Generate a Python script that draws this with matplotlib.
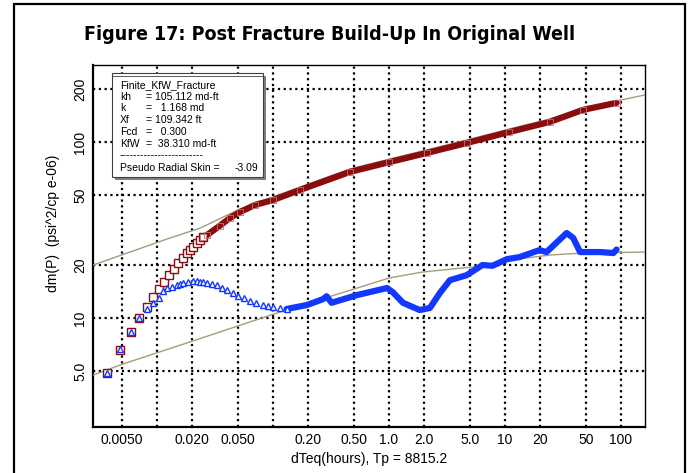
import numpy as np
import matplotlib
matplotlib.use('Agg')
from matplotlib import pyplot as plt
from matplotlib.patches import Rectangle

plt.rcParams['font.family'] = ['Liberation Sans', 'DejaVu Sans']

# pressure change (red squares), sparse early part and dense late part
t_dp_early = [0.00371, 0.00480, 0.00597, 0.00700, 0.00820, 0.00924, 0.0104, 0.0115,
              0.0127, 0.0140, 0.0152, 0.0168, 0.0181, 0.0192, 0.0204, 0.0221, 0.0235, 0.0249]
dp_early = [4.87, 6.58, 8.32, 10.0, 11.55, 13.2, 14.6, 16.0,
            17.5, 19.0, 20.5, 21.9, 23.4, 24.3, 25.3, 26.7, 27.7, 28.9]
t_dp_late = [0.0249, 0.0270, 0.0349, 0.0426, 0.0519, 0.070, 0.100, 0.171, 0.46,
             1.01, 2.11, 4.66, 10.9, 24.3, 46.6, 91.6]
dp_late = [28.9, 29.6, 33.5, 37.0, 40.0, 43.9, 46.8, 53.4, 67.6,
           76.9, 86.6, 98.6, 114, 130, 152, 167]

# derivative (blue triangles)
t_der_early = [0.00371, 0.00480, 0.00597, 0.00700, 0.00820, 0.00924, 0.0104, 0.0113,
               0.0122, 0.0135, 0.0148, 0.0158, 0.0168, 0.0185, 0.0204, 0.0220, 0.0235,
               0.0250, 0.0270, 0.0300, 0.0330, 0.0365, 0.0401, 0.0452, 0.050, 0.056,
               0.0632, 0.072, 0.082, 0.090, 0.100, 0.115, 0.131]
der_early = [4.87, 6.66, 8.32, 10.0, 11.25, 12.2, 13.0, 14.2,
             14.8, 15.0, 15.4, 15.6, 15.8, 16.0, 16.2, 16.2, 16.1,
             16.0, 15.8, 15.6, 15.4, 14.9, 14.4, 13.9, 13.4, 13.0,
             12.5, 12.1, 11.8, 11.65, 11.55, 11.35, 11.25]
t_der_late = [0.131, 0.196, 0.27, 0.29, 0.32, 0.53, 0.96, 1.08, 1.32, 1.84, 2.25,
              2.75, 3.35, 4.66, 6.4, 7.8, 10.4, 13.4, 19.8, 22.8, 34, 38.7,
              44.4, 66, 86, 91.6]
der_late = [11.25, 11.85, 12.8, 13.3, 12.2, 13.5, 14.8, 14.0, 12.2, 11.1, 11.4,
            13.9, 16.4, 17.5, 20.0, 19.8, 21.6, 22.2, 24.3, 23.7, 30.4, 28.5,
            23.7, 23.7, 23.4, 24.5]

# model curves
t_model_dp = [0.00281, 0.00585, 0.0122, 0.0235, 0.0519, 0.100, 0.171, 0.46, 1.01,
              2.11, 4.66, 10.9, 24.3, 46.6, 91.6, 160]
model_dp = [20.0, 23.7, 28.1, 32.4, 41.6, 48.7, 55.5, 70.3, 80.0,
            90.1, 102.6, 118.6, 135, 154, 171, 185]
t_model_der = [0.00281, 0.0051, 0.0235, 0.100, 0.31, 1.01, 1.95, 5.3, 12.7, 24.6, 47.2, 160]
model_der = [4.74, 5.48, 7.64, 10.5, 13.25, 16.9, 18.25, 19.5, 21.6, 22.8, 23.4, 23.7]

x_ticks = [0.005, 0.01, 0.02, 0.05, 0.1, 0.2, 0.5, 1, 2, 5, 10, 20, 50, 100]
x_labels = ['0.0050', '', '0.020', '0.050', '', '0.20', '0.50', '1.0', '2.0',
            '5.0', '10', '20', '50', '100']
y_ticks = [5, 10, 20, 50, 100, 200]
y_labels = ['5.0', '10', '20', '50', '100', '200']

legend_lines = [
    ('Finite_KfW_Fracture', '', ''),
    ('kh', '=', '105.112 md-ft'),
    ('k', '=', '  1.168 md'),
    ('Xf', '=', '109.342 ft'),
    ('Fcd', '=', '  0.300'),
    ('KfW', '=', ' 38.310 md-ft'),
]

W, H = 692, 473
fig = plt.figure(figsize=(W / 100, H / 100), dpi=100)


def fx(x):
    return x / W


def fy(y):
    return 1 - y / H


ax = fig.add_axes([fx(93), fy(427), fx(645) - fx(93), fy(65) - fy(427)])

red = '#8b0c0c'
blue = '#1238ff'
model_c = '#a39c7c'

ax.plot(t_model_dp, model_dp, color=model_c, lw=1.0, zorder=3)
ax.plot(t_model_der, model_der, color=model_c, lw=1.0, zorder=3)

ax.plot(t_dp_late, dp_late, color=red, lw=4.5, solid_capstyle='round', zorder=4)
ax.plot(t_dp_late, dp_late, ls='none', marker='s', ms=5, mfc='none', mec='#c07070',
        mew=0.6, zorder=5)
ax.plot(t_dp_early, dp_early, ls='none', marker='s', ms=5.5, mfc='white', mec=red,
        mew=1.0, zorder=4)

ax.plot(t_der_late, der_late, color=blue, lw=4.5, solid_capstyle='round', zorder=4)
ax.plot(t_der_early, der_early, ls='none', marker='^', ms=4.5, mfc='white', mec=blue,
        mew=1.0, zorder=5)

ax.set_xscale('log')
ax.set_yscale('log')
ax.set_xlim(0.002808, 161)
ax.set_ylim(2.403, 273.8)
ax.set_xticks(x_ticks)
ax.set_xticklabels(x_labels)
ax.set_yticks(y_ticks)
ax.set_yticklabels(y_labels, rotation=90, va='center')
ax.minorticks_off()
ax.tick_params(length=0, labelsize=10, pad=4)
ax.grid(True, color='black', ls=(0, (1, 1.6)), lw=1.6)

for s in ['left', 'bottom']:
    ax.spines[s].set_linewidth(1.6)
for s in ['top', 'right']:
    ax.spines[s].set_linewidth(1.0)

ax.set_xlabel('dTeq(hours), Tp = 8815.2', fontsize=10)
ax.xaxis.set_label_coords(0.5, -0.07)
ax.set_ylabel('dm(P)  (psi^2/cp e-06)', fontsize=10)
ax.yaxis.set_label_coords(-0.06, 0.5635)

fig.text(fx(330), fy(35), 'Figure 17: Post Fracture Build-Up In Original Well',
         family='DejaVu Sans', fontstretch='condensed', fontweight='bold',
         fontsize=14, ha='center', va='center')

# outer frame
fig.patches.append(Rectangle((fx(14), fy(480)), fx(685) - fx(14), fy(4) - fy(480),
                             transform=fig.transFigure, fill=False, lw=1.6,
                             ec='black'))

# parameter box with shadow
fig.patches.append(Rectangle((fx(115), fy(180)), fx(263) - fx(112), fy(73) - fy(177),
                             transform=fig.transFigure, fc='#808080', ec='none',
                             zorder=6))
fig.patches.append(Rectangle((fx(112), fy(177)), fx(263) - fx(112), fy(73) - fy(177),
                             transform=fig.transFigure, fc='white', ec='#404040',
                             lw=0.8, zorder=7))
fig.lines.append(plt.Line2D([fx(112), fx(263)], [fy(76), fy(76)],
                            transform=fig.transFigure, color='#404040', lw=0.6,
                            zorder=8))

row_y = [85, 97, 108, 120, 132, 144]
for (lab, eq, val), yy in zip(legend_lines, row_y):
    fig.text(fx(120), fy(yy), lab, fontsize=7.5, va='center', zorder=9)
    if eq:
        fig.text(fx(145), fy(yy), eq, fontsize=7.5, va='center', zorder=9)
        fig.text(fx(155), fy(yy), val, fontsize=7.5, va='center', zorder=9)
fig.text(fx(120), fy(155), '-' * 24, fontsize=7.5, va='center', zorder=9)
fig.text(fx(120), fy(168), 'Pseudo Radial Skin =', fontsize=7.5, va='center', zorder=9)
fig.text(fx(235), fy(168), '-3.09', fontsize=7.5, va='center', zorder=9)

fig.savefig('out.png', dpi=100)
